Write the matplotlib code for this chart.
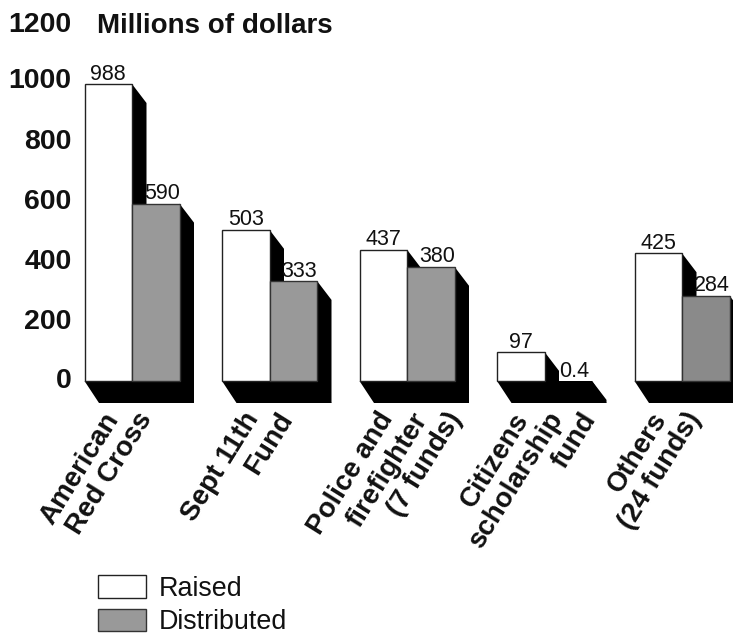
import matplotlib
matplotlib.use("Agg")
import matplotlib.pyplot as plt
from matplotlib.patches import Polygon, Patch
from matplotlib.transforms import ScaledTranslation

plt.rcParams['font.family'] = ['Liberation Sans', 'DejaVu Sans']

categories = ["American\nRed Cross", "Sept 11th\nFund", "Police and\nfirefighter\n(7 funds)",
              "Citizens\nscholarship\nfund", "Others\n(24 funds)"]
raised = [988, 503, 437, 97, 425]
distributed = [590, 333, 380, 0.4, 284]
value_labels_raised = ["988", "503", "437", "97", "425"]
value_labels_dist = ["590", "333", "380", "0.4", "284"]
yticks = [0, 200, 400, 600, 800, 1000, 1200]
legend_labels = ["Raised", "Distributed"]

W, H = 733, 638
fig = plt.figure(figsize=(W / 100, H / 100), dpi=100, facecolor="white")
left_px = 80
ax = fig.add_axes([left_px / W, 0, 1 - left_px / W, 1])

PX_PER_CAT = 137.5
PX_PER_VAL = 0.3006
ZERO_PX = 381
ORIGIN_PX = 132
ax.set_xlim((left_px - ORIGIN_PX) / PX_PER_CAT, (W - ORIGIN_PX) / PX_PER_CAT)
ax.set_ylim(-(H - ZERO_PX) / PX_PER_VAL, ZERO_PX / PX_PER_VAL)
ax.patch.set_visible(False)
for s in ax.spines.values():
    s.set_visible(False)

bw = 47.5 / PX_PER_CAT
dx = 14.5 / PX_PER_CAT
dy_top = 19 / PX_PER_VAL
dy_floor = 22 / PX_PER_VAL

grey = ["#999999", "#999999", "#999999", "#999999", "#8a8a8a"]
for i, (r, d) in enumerate(zip(raised, distributed)):
    xl, xm, xr = i - bw, i, i + bw
    ax.add_patch(Polygon([(xl, 0), (xr, 0), (xr + dx, -dy_floor), (xl + dx, -dy_floor)],
                         closed=True, fc="black", ec="none", zorder=1))
    ax.add_patch(Polygon([(xm, r), (xm + dx, r - dy_top), (xm + dx, 0), (xm, 0)],
                         closed=True, fc="black", ec="none", zorder=1))
    ax.add_patch(Polygon([(xr, d), (xr + dx, d - dy_top), (xr + dx, -dy_floor), (xr, -dy_floor)],
                         closed=True, fc="black", ec="none", zorder=1))
    ax.bar(i - bw / 2, r, width=bw, color="white", edgecolor="#222222", linewidth=1, zorder=3)
    if d >= 1:
        ax.bar(i + bw / 2, d, width=bw, color=grey[i], edgecolor="#333333", linewidth=1, zorder=3)

for i, (r, d) in enumerate(zip(raised, distributed)):
    ax.annotate(value_labels_raised[i], (i - bw / 2, r), xytext=(0, -0.5), textcoords="offset points",
                ha="center", va="bottom", fontsize=15.5, color="#111111", zorder=5)
    ax.annotate(value_labels_dist[i], (i + bw / 2, d), xytext=(4.5, -0.5), textcoords="offset points",
                ha="center", va="bottom", fontsize=15.5, color="#111111", zorder=5)

ax.set_xticks([])
ax.set_yticks(yticks)
ax.set_yticklabels([str(v) for v in yticks], fontsize=20.5, fontweight="bold", color="#111111")
ax.tick_params(axis="y", length=0, pad=6)
label_shift_px = [3, 2, 2, 2, 2, 2, -2]
for lab, s in zip(ax.get_yticklabels(), label_shift_px):
    lab.set_transform(lab.get_transform() + ScaledTranslation(0, s / 100, fig.dpi_scale_trans))

fig.text(97 / W, 1 - 26 / H, "Millions of dollars", fontsize=20, fontweight="bold",
         color="#111111", ha="left", va="center")

label_end_px = [117, 257, 392, 527, 665]
LINE_STEP_PX = 34
LABEL_TOP_PX = 416
for name, end in zip(categories, label_end_px):
    for k, line in enumerate(name.split("\n")):
        px = end + k * LINE_STEP_PX - 15
        fig.text(px / W, 1 - (LABEL_TOP_PX - 8) / H, line, fontsize=20, fontweight="bold", color="#111111",
                 rotation=58, rotation_mode="anchor", ha="right", va="top")

handles = [Patch(facecolor="white", edgecolor="#222222", linewidth=1),
           Patch(facecolor="#999999", edgecolor="#333333", linewidth=1)]
fig.legend(handles, legend_labels, loc="lower left", bbox_to_anchor=(76 / W, -19 / H), frameon=False,
           fontsize=19.4, handlelength=1.78, handleheight=0.9, handletextpad=0.48,
           labelspacing=0.26, borderpad=0.3, labelcolor="#111111")

fig.savefig("out.png", dpi=100, facecolor="white")
